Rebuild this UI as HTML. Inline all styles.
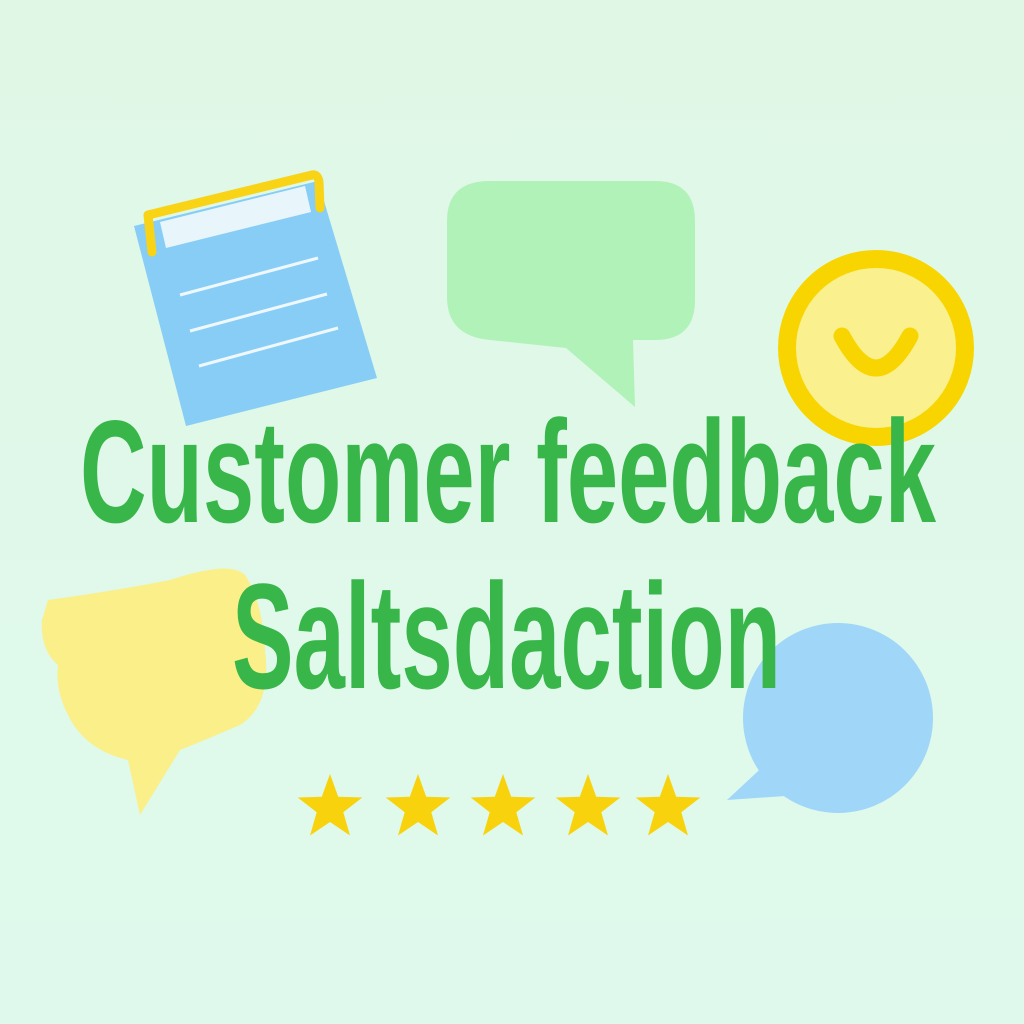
<!DOCTYPE html>
<html><head><meta charset="utf-8"><style>
html,body{margin:0;padding:0;background:#dff9ea;}
svg{display:block}
</style></head><body>
<svg width="1024" height="1024" viewBox="0 0 1024 1024">
<defs><linearGradient id="bg" x1="0" y1="0" x2="0" y2="1"><stop offset="0" stop-color="#e0f7e6"/><stop offset="1" stop-color="#dffaec"/></linearGradient></defs>
<rect width="1024" height="1024" fill="url(#bg)"/>
<g>
<polygon points="134,226 318,181 377,378 186,426" fill="#88cdf6"/>
<polygon points="160,222 305,186 311,212 166,248" fill="#e8f6fb"/>
<path d="M152,252 L148,215 L312,175 Q318,174 319,182 L320,208" fill="none" stroke="#f8d316" stroke-width="9" stroke-linejoin="round" stroke-linecap="round"/>
<line x1="180" y1="295" x2="318" y2="258" stroke="#f0f8ff" stroke-width="3"/>
<line x1="190" y1="331" x2="327" y2="294" stroke="#f0f8ff" stroke-width="3"/>
<line x1="199" y1="366" x2="338" y2="328" stroke="#f0f8ff" stroke-width="3"/>
</g>
<g>
<path d="M490,181 H655 Q695,181 695,221 V300 Q695,340 655,340 H633 L635,407 L566,348 L490,340 Q447,336 447,297 V221 Q447,181 490,181 Z" fill="#b1f2b9"/>
</g>
<g>
<circle cx="876" cy="348" r="89" fill="#faf08d" stroke="#f8d500" stroke-width="18"/>
<path d="M842,336 Q876,400 910,336" fill="none" stroke="#f8d500" stroke-width="17" stroke-linecap="round"/>
</g>
<g>
<path d="M48,600 Q120,590 170,580 Q230,560 245,575 Q262,600 265,650 Q272,705 240,725 Q205,740 180,750 L140,815 L128,760 Q85,750 68,715 Q55,690 58,665 Q40,650 42,620 Z" fill="#fbef89"/>
</g>
<g>
<circle cx="838" cy="718" r="95" fill="#a0d6f8"/>
<path d="M770,760 L727,800 L800,795 Z" fill="#a0d6f8"/>
</g>
<g fill="#38b64a" font-weight="bold" font-family="'Liberation Sans Narrow','Liberation Sans',sans-serif">
<text x="80" y="522" font-size="146" textLength="856" lengthAdjust="spacingAndGlyphs">Customer feedback</text>
<text x="232" y="688" font-size="150" textLength="549" lengthAdjust="spacingAndGlyphs">Saltsdaction</text>
</g>
<g fill="#f8d20c" id="stars"></g>
<script>
const starX=[330,418,503,588,668];
const g=document.getElementById('stars');
starX.forEach(function(cx){
  const cy=808,R=34,r=14;let pts=[];
  for(let i=0;i<10;i++){const a=-Math.PI/2+i*Math.PI/5;const rr=i%2?r:R;pts.push((cx+rr*Math.cos(a)).toFixed(1)+','+(cy+rr*Math.sin(a)).toFixed(1));}
  const p=document.createElementNS('http://www.w3.org/2000/svg','polygon');
  p.setAttribute('points',pts.join(' '));
  
  
  g.appendChild(p);
});
</script>
</svg>
</body></html>
